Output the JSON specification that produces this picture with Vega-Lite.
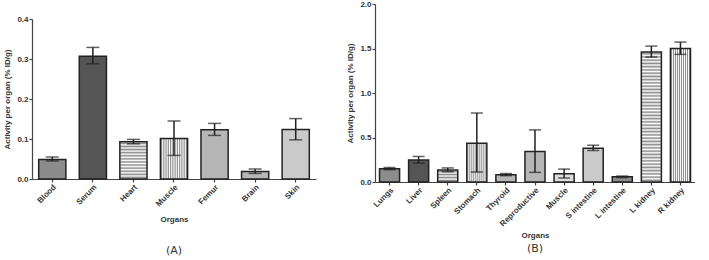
{
  "$schema": "https://vega.github.io/schema/vega-lite/v6.json",
  "padding": {"left": 3, "top": 0, "right": 0, "bottom": 0},
  "background": "white",
  "config": {
    "view": {"stroke": null},
    "font": "Liberation Sans",
    "axis": {
      "grid": false,
      "labelFont": "Liberation Sans",
      "labelFontWeight": "bold",
      "labelFontSize": 8,
      "labelColor": "#333",
      "titleFont": "Liberation Sans",
      "titleFontWeight": "bold",
      "titleFontSize": 8,
      "titleColor": "#333",
      "domainColor": "#444",
      "domainWidth": 1.2,
      "tickColor": "#444",
      "tickWidth": 1.2,
      "tickSize": 3,
      "labelPadding": 1
    },
    "title": {"font": "DejaVu Sans", "fontWeight": "normal", "fontSize": 11, "color": "#333"}
  },
  "spacing": 30,
  "hconcat": [
    {
      "spacing": 0,
      "vconcat": [
        {
          "width": 284,
          "height": 11,
          "data": {"values": []},
          "mark": {"type": "point", "opacity": 0},
          "encoding": {}
        },
        {
          "width": 284,
          "height": 160,
          "title": {"text": "(A)", "orient": "bottom", "offset": 21},
          "data": {"values": [
            {"organ": "Blood", "mean": 0.049, "low": 0.045, "high": 0.055},
            {"organ": "Serum", "mean": 0.307, "low": 0.288, "high": 0.329},
            {"organ": "Heart", "mean": 0.093, "low": 0.088, "high": 0.099},
            {"organ": "Muscle", "mean": 0.101, "low": 0.059, "high": 0.145},
            {"organ": "Femur", "mean": 0.123, "low": 0.109, "high": 0.139},
            {"organ": "Brain", "mean": 0.019, "low": 0.014, "high": 0.025},
            {"organ": "Skin", "mean": 0.124, "low": 0.098, "high": 0.151}
          ]},
          "encoding": {
            "x": {"field": "organ", "type": "nominal", "sort": null, "title": "Organs",
                  "scale": {"paddingInner": 0.33},
                  "axis": {"labelAngle": -45, "titlePadding": 8}}
          },
          "layer": [
            {
              "mark": {"type": "bar", "stroke": "#222", "strokeWidth": 1.5},
              "encoding": {
                "y": {"field": "mean", "type": "quantitative", "scale": {"domain": [0, 0.4]},
                      "title": "Activity per organ (% ID/g)",
                      "axis": {"values": [0, 0.1, 0.2, 0.3, 0.4], "format": ".1f", "titlePadding": 5}},
                "fill": {
                  "condition": [
                    {"test": "datum.organ === 'Heart'", "value": {"gradient": "linear", "x1": 0, "y1": 0, "x2": 0, "y2": 1, "stops": [
                      {"offset": 0, "color": "#ffffff"}, {"offset": 0.042, "color": "#8a8a8a"}, {"offset": 0.083, "color": "#ffffff"}, {"offset": 0.125, "color": "#8a8a8a"}, {"offset": 0.167, "color": "#ffffff"}, {"offset": 0.208, "color": "#8a8a8a"}, {"offset": 0.25, "color": "#ffffff"}, {"offset": 0.292, "color": "#8a8a8a"}, {"offset": 0.333, "color": "#ffffff"}, {"offset": 0.375, "color": "#8a8a8a"}, {"offset": 0.417, "color": "#ffffff"}, {"offset": 0.458, "color": "#8a8a8a"}, {"offset": 0.5, "color": "#ffffff"}, {"offset": 0.542, "color": "#8a8a8a"}, {"offset": 0.583, "color": "#ffffff"}, {"offset": 0.625, "color": "#8a8a8a"}, {"offset": 0.667, "color": "#ffffff"}, {"offset": 0.708, "color": "#8a8a8a"}, {"offset": 0.75, "color": "#ffffff"}, {"offset": 0.792, "color": "#8a8a8a"}, {"offset": 0.833, "color": "#ffffff"}, {"offset": 0.875, "color": "#8a8a8a"}, {"offset": 0.917, "color": "#ffffff"}, {"offset": 0.958, "color": "#8a8a8a"}, {"offset": 1, "color": "#ffffff"}]}},
                    {"test": "datum.organ === 'Muscle'", "value": {"gradient": "linear", "x1": 0, "y1": 0, "x2": 1, "y2": 0, "stops": [
                      {"offset": 0, "color": "#ffffff"}, {"offset": 0.042, "color": "#8a8a8a"}, {"offset": 0.083, "color": "#ffffff"}, {"offset": 0.125, "color": "#8a8a8a"}, {"offset": 0.167, "color": "#ffffff"}, {"offset": 0.208, "color": "#8a8a8a"}, {"offset": 0.25, "color": "#ffffff"}, {"offset": 0.292, "color": "#8a8a8a"}, {"offset": 0.333, "color": "#ffffff"}, {"offset": 0.375, "color": "#8a8a8a"}, {"offset": 0.417, "color": "#ffffff"}, {"offset": 0.458, "color": "#8a8a8a"}, {"offset": 0.5, "color": "#ffffff"}, {"offset": 0.542, "color": "#8a8a8a"}, {"offset": 0.583, "color": "#ffffff"}, {"offset": 0.625, "color": "#8a8a8a"}, {"offset": 0.667, "color": "#ffffff"}, {"offset": 0.708, "color": "#8a8a8a"}, {"offset": 0.75, "color": "#ffffff"}, {"offset": 0.792, "color": "#8a8a8a"}, {"offset": 0.833, "color": "#ffffff"}, {"offset": 0.875, "color": "#8a8a8a"}, {"offset": 0.917, "color": "#ffffff"}, {"offset": 0.958, "color": "#8a8a8a"}, {"offset": 1, "color": "#ffffff"}]}}
                  ],
                  "field": "organ", "type": "nominal", "legend": null,
                  "scale": {"domain": ["Blood", "Serum", "Heart", "Muscle", "Femur", "Brain", "Skin"],
                            "range": ["#8c8c8c", "#555555", "#dddddd", "#dddddd", "#b6b6b6", "#b6b6b6", "#cacaca"]}
                }
              }
            },
            {
              "mark": {"type": "rule", "stroke": "#222", "strokeWidth": 1.5},
              "encoding": {
                "y": {"field": "low", "type": "quantitative", "title": "Activity per organ (% ID/g)",
                      "axis": {"values": [0, 0.1, 0.2, 0.3, 0.4], "format": ".1f", "titlePadding": 5}},
                "y2": {"field": "high"}
              }
            },
            {
              "mark": {"type": "tick", "color": "#222", "thickness": 1.5, "size": 13},
              "encoding": {"y": {"field": "high", "type": "quantitative", "title": "Activity per organ (% ID/g)",
                      "axis": {"values": [0, 0.1, 0.2, 0.3, 0.4], "format": ".1f", "titlePadding": 5}}}
            },
            {
              "mark": {"type": "tick", "color": "#222", "thickness": 1.5, "size": 13},
              "encoding": {"y": {"field": "low", "type": "quantitative", "title": "Activity per organ (% ID/g)",
                      "axis": {"values": [0, 0.1, 0.2, 0.3, 0.4], "format": ".1f", "titlePadding": 5}}}
            }
          ]
        }
      ]
    },
    {
      "width": 320,
      "height": 178,
      "title": {"text": "(B)", "orient": "bottom", "offset": 3, "frame": "group"},
      "data": {"values": [
        {"organ": "Lungs", "mean": 0.149, "low": 0.138, "high": 0.163},
        {"organ": "Liver", "mean": 0.246, "low": 0.212, "high": 0.287},
        {"organ": "Spleen", "mean": 0.134, "low": 0.115, "high": 0.158},
        {"organ": "Stomach", "mean": 0.436, "low": 0.112, "high": 0.775},
        {"organ": "Thyroid", "mean": 0.082, "low": 0.071, "high": 0.095},
        {"organ": "Reproductive", "mean": 0.343, "low": 0.108, "high": 0.585},
        {"organ": "Muscle", "mean": 0.093, "low": 0.045, "high": 0.145},
        {"organ": "S intestine", "mean": 0.38, "low": 0.354, "high": 0.413},
        {"organ": "L intestine", "mean": 0.06, "low": 0.05, "high": 0.067},
        {"organ": "L kidney", "mean": 1.46, "low": 1.404, "high": 1.527},
        {"organ": "R kidney", "mean": 1.501, "low": 1.434, "high": 1.572}
      ]},
      "encoding": {
        "x": {"field": "organ", "type": "nominal", "sort": null, "title": "Organs",
              "scale": {"paddingInner": 0.31},
              "axis": {"labelAngle": -45, "titlePadding": 4}}
      },
      "layer": [
        {
          "mark": {"type": "bar", "stroke": "#222", "strokeWidth": 1.5},
          "encoding": {
            "y": {"field": "mean", "type": "quantitative", "scale": {"domain": [0, 2]},
                  "title": "Activity per organ (% ID/g)",
                  "axis": {"values": [0, 0.5, 1, 1.5, 2], "format": ".1f", "titlePadding": 5}},
            "fill": {
              "condition": [
                {"test": "datum.organ === 'Stomach' || datum.organ === 'R kidney'", "value": {"gradient": "linear", "x1": 0, "y1": 0, "x2": 1, "y2": 0, "stops": [
                  {"offset": 0, "color": "#ffffff"}, {"offset": 0.05, "color": "#8a8a8a"}, {"offset": 0.1, "color": "#ffffff"}, {"offset": 0.15, "color": "#8a8a8a"}, {"offset": 0.2, "color": "#ffffff"}, {"offset": 0.25, "color": "#8a8a8a"}, {"offset": 0.3, "color": "#ffffff"}, {"offset": 0.35, "color": "#8a8a8a"}, {"offset": 0.4, "color": "#ffffff"}, {"offset": 0.45, "color": "#8a8a8a"}, {"offset": 0.5, "color": "#ffffff"}, {"offset": 0.55, "color": "#8a8a8a"}, {"offset": 0.6, "color": "#ffffff"}, {"offset": 0.65, "color": "#8a8a8a"}, {"offset": 0.7, "color": "#ffffff"}, {"offset": 0.75, "color": "#8a8a8a"}, {"offset": 0.8, "color": "#ffffff"}, {"offset": 0.85, "color": "#8a8a8a"}, {"offset": 0.9, "color": "#ffffff"}, {"offset": 0.95, "color": "#8a8a8a"}, {"offset": 1, "color": "#ffffff"}]}},
                {"test": "datum.organ === 'Spleen'", "value": {"gradient": "linear", "x1": 0, "y1": 0, "x2": 0, "y2": 1, "stops": [
                  {"offset": 0, "color": "#ffffff"}, {"offset": 0.125, "color": "#8a8a8a"}, {"offset": 0.25, "color": "#ffffff"}, {"offset": 0.375, "color": "#8a8a8a"}, {"offset": 0.5, "color": "#ffffff"}, {"offset": 0.625, "color": "#8a8a8a"}, {"offset": 0.75, "color": "#ffffff"}, {"offset": 0.875, "color": "#8a8a8a"}, {"offset": 1, "color": "#ffffff"}]}},
                {"test": "datum.organ === 'L kidney'", "value": {"gradient": "linear", "x1": 0, "y1": 0, "x2": 0, "y2": 1, "stops": [
                  {"offset": 0, "color": "#ffffff"}, {"offset": 0.0125, "color": "#8a8a8a"}, {"offset": 0.025, "color": "#ffffff"}, {"offset": 0.0375, "color": "#8a8a8a"}, {"offset": 0.05, "color": "#ffffff"}, {"offset": 0.0625, "color": "#8a8a8a"}, {"offset": 0.075, "color": "#ffffff"}, {"offset": 0.0875, "color": "#8a8a8a"}, {"offset": 0.1, "color": "#ffffff"}, {"offset": 0.1125, "color": "#8a8a8a"}, {"offset": 0.125, "color": "#ffffff"}, {"offset": 0.1375, "color": "#8a8a8a"}, {"offset": 0.15, "color": "#ffffff"}, {"offset": 0.1625, "color": "#8a8a8a"}, {"offset": 0.175, "color": "#ffffff"}, {"offset": 0.1875, "color": "#8a8a8a"}, {"offset": 0.2, "color": "#ffffff"}, {"offset": 0.2125, "color": "#8a8a8a"}, {"offset": 0.225, "color": "#ffffff"}, {"offset": 0.2375, "color": "#8a8a8a"}, {"offset": 0.25, "color": "#ffffff"}, {"offset": 0.2625, "color": "#8a8a8a"}, {"offset": 0.275, "color": "#ffffff"}, {"offset": 0.2875, "color": "#8a8a8a"}, {"offset": 0.3, "color": "#ffffff"}, {"offset": 0.3125, "color": "#8a8a8a"}, {"offset": 0.325, "color": "#ffffff"}, {"offset": 0.3375, "color": "#8a8a8a"}, {"offset": 0.35, "color": "#ffffff"}, {"offset": 0.3625, "color": "#8a8a8a"}, {"offset": 0.375, "color": "#ffffff"}, {"offset": 0.3875, "color": "#8a8a8a"}, {"offset": 0.4, "color": "#ffffff"}, {"offset": 0.4125, "color": "#8a8a8a"}, {"offset": 0.425, "color": "#ffffff"}, {"offset": 0.4375, "color": "#8a8a8a"}, {"offset": 0.45, "color": "#ffffff"}, {"offset": 0.4625, "color": "#8a8a8a"}, {"offset": 0.475, "color": "#ffffff"}, {"offset": 0.4875, "color": "#8a8a8a"}, {"offset": 0.5, "color": "#ffffff"}, {"offset": 0.5125, "color": "#8a8a8a"}, {"offset": 0.525, "color": "#ffffff"}, {"offset": 0.5375, "color": "#8a8a8a"}, {"offset": 0.55, "color": "#ffffff"}, {"offset": 0.5625, "color": "#8a8a8a"}, {"offset": 0.575, "color": "#ffffff"}, {"offset": 0.5875, "color": "#8a8a8a"}, {"offset": 0.6, "color": "#ffffff"}, {"offset": 0.6125, "color": "#8a8a8a"}, {"offset": 0.625, "color": "#ffffff"}, {"offset": 0.6375, "color": "#8a8a8a"}, {"offset": 0.65, "color": "#ffffff"}, {"offset": 0.6625, "color": "#8a8a8a"}, {"offset": 0.675, "color": "#ffffff"}, {"offset": 0.6875, "color": "#8a8a8a"}, {"offset": 0.7, "color": "#ffffff"}, {"offset": 0.7125, "color": "#8a8a8a"}, {"offset": 0.725, "color": "#ffffff"}, {"offset": 0.7375, "color": "#8a8a8a"}, {"offset": 0.75, "color": "#ffffff"}, {"offset": 0.7625, "color": "#8a8a8a"}, {"offset": 0.775, "color": "#ffffff"}, {"offset": 0.7875, "color": "#8a8a8a"}, {"offset": 0.8, "color": "#ffffff"}, {"offset": 0.8125, "color": "#8a8a8a"}, {"offset": 0.825, "color": "#ffffff"}, {"offset": 0.8375, "color": "#8a8a8a"}, {"offset": 0.85, "color": "#ffffff"}, {"offset": 0.8625, "color": "#8a8a8a"}, {"offset": 0.875, "color": "#ffffff"}, {"offset": 0.8875, "color": "#8a8a8a"}, {"offset": 0.9, "color": "#ffffff"}, {"offset": 0.9125, "color": "#8a8a8a"}, {"offset": 0.925, "color": "#ffffff"}, {"offset": 0.9375, "color": "#8a8a8a"}, {"offset": 0.95, "color": "#ffffff"}, {"offset": 0.9625, "color": "#8a8a8a"}, {"offset": 0.975, "color": "#ffffff"}, {"offset": 0.9875, "color": "#8a8a8a"}, {"offset": 1, "color": "#ffffff"}]}}
              ],
              "field": "organ", "type": "nominal", "legend": null,
              "scale": {"domain": ["Lungs", "Liver", "Spleen", "Stomach", "Thyroid", "Reproductive", "Muscle", "S intestine", "L intestine", "L kidney", "R kidney"],
                        "range": ["#8c8c8c", "#5e5e5e", "#dddddd", "#dddddd", "#b6b6b6", "#b2b2b2", "#cacaca", "#888888", "#555555", "#dddddd", "#dddddd"]}
            }
          }
        },
        {
          "mark": {"type": "rule", "stroke": "#222", "strokeWidth": 1.5},
          "encoding": {
            "y": {"field": "low", "type": "quantitative", "title": "Activity per organ (% ID/g)",
                  "axis": {"values": [0, 0.5, 1, 1.5, 2], "format": ".1f", "titlePadding": 5}},
            "y2": {"field": "high"}
          }
        },
        {
          "mark": {"type": "tick", "color": "#222", "thickness": 1.5, "size": 12},
          "encoding": {"y": {"field": "high", "type": "quantitative", "title": "Activity per organ (% ID/g)",
                  "axis": {"values": [0, 0.5, 1, 1.5, 2], "format": ".1f", "titlePadding": 5}}}
        },
        {
          "mark": {"type": "tick", "color": "#222", "thickness": 1.5, "size": 12},
          "encoding": {"y": {"field": "low", "type": "quantitative", "title": "Activity per organ (% ID/g)",
                  "axis": {"values": [0, 0.5, 1, 1.5, 2], "format": ".1f", "titlePadding": 5}}}
        }
      ]
    }
  ]
}
